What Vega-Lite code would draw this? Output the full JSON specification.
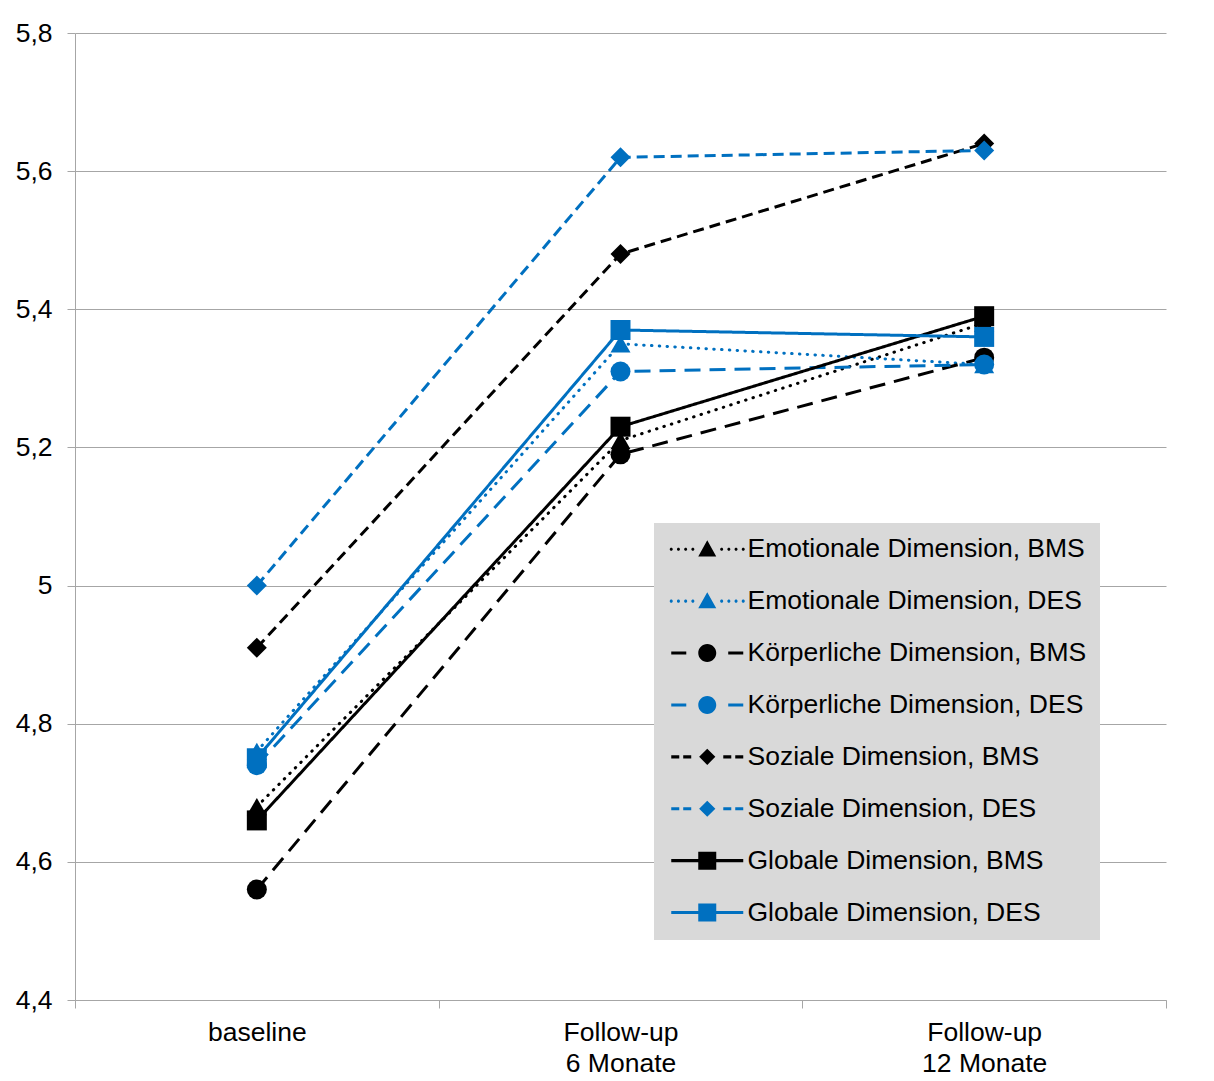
{
  "$schema": "https://vega.github.io/schema/vega-lite/v6.json",
  "width": 1091,
  "height": 967,
  "autosize": {"type": "none"},
  "padding": {"left": 75, "top": 33, "right": 48, "bottom": 81},
  "background": "white",
  "config": {
    "view": {"stroke": null},
    "font": "Liberation Sans",
    "axis": {
      "labelFont": "Liberation Sans",
      "labelFontSize": 26.5,
      "labelColor": "black",
      "domainColor": "#a6a6a6",
      "tickColor": "#a6a6a6",
      "gridColor": "#a6a6a6",
      "domainWidth": 1,
      "tickWidth": 1,
      "gridWidth": 1,
      "tickSize": 8,
      "title": null
    }
  },
  "data": {
    "values": [
      {"zeit": "baseline", "reihe": "Emotionale Dimension, BMS", "wert": 4.68},
      {"zeit": "Follow-up 6 Monate", "reihe": "Emotionale Dimension, BMS", "wert": 5.21},
      {"zeit": "Follow-up 12 Monate", "reihe": "Emotionale Dimension, BMS", "wert": 5.38},
      {"zeit": "baseline", "reihe": "Emotionale Dimension, DES", "wert": 4.76},
      {"zeit": "Follow-up 6 Monate", "reihe": "Emotionale Dimension, DES", "wert": 5.35},
      {"zeit": "Follow-up 12 Monate", "reihe": "Emotionale Dimension, DES", "wert": 5.32},
      {"zeit": "baseline", "reihe": "Körperliche Dimension, BMS", "wert": 4.56},
      {"zeit": "Follow-up 6 Monate", "reihe": "Körperliche Dimension, BMS", "wert": 5.19},
      {"zeit": "Follow-up 12 Monate", "reihe": "Körperliche Dimension, BMS", "wert": 5.33},
      {"zeit": "baseline", "reihe": "Körperliche Dimension, DES", "wert": 4.74},
      {"zeit": "Follow-up 6 Monate", "reihe": "Körperliche Dimension, DES", "wert": 5.31},
      {"zeit": "Follow-up 12 Monate", "reihe": "Körperliche Dimension, DES", "wert": 5.32},
      {"zeit": "baseline", "reihe": "Soziale Dimension, BMS", "wert": 4.91},
      {"zeit": "Follow-up 6 Monate", "reihe": "Soziale Dimension, BMS", "wert": 5.48},
      {"zeit": "Follow-up 12 Monate", "reihe": "Soziale Dimension, BMS", "wert": 5.64},
      {"zeit": "baseline", "reihe": "Soziale Dimension, DES", "wert": 5.0},
      {"zeit": "Follow-up 6 Monate", "reihe": "Soziale Dimension, DES", "wert": 5.62},
      {"zeit": "Follow-up 12 Monate", "reihe": "Soziale Dimension, DES", "wert": 5.63},
      {"zeit": "baseline", "reihe": "Globale Dimension, BMS", "wert": 4.66},
      {"zeit": "Follow-up 6 Monate", "reihe": "Globale Dimension, BMS", "wert": 5.23},
      {"zeit": "Follow-up 12 Monate", "reihe": "Globale Dimension, BMS", "wert": 5.39},
      {"zeit": "baseline", "reihe": "Globale Dimension, DES", "wert": 4.75},
      {"zeit": "Follow-up 6 Monate", "reihe": "Globale Dimension, DES", "wert": 5.37},
      {"zeit": "Follow-up 12 Monate", "reihe": "Globale Dimension, DES", "wert": 5.36}
    ]
  },
  "encoding": {
    "x": {
      "field": "zeit",
      "type": "nominal",
      "bandPosition": 0.5,
      "sort": ["baseline", "Follow-up 6 Monate", "Follow-up 12 Monate"],
      "scale": {"type": "band", "paddingInner": 0, "paddingOuter": 0},
      "axis": {
        "labelAngle": 0,
        "tickBand": "extent",
        "labelPadding": 11,
        "labelBaseline": "top",
        "labelLineHeight": 31,
        "labelExpr": "datum.value == 'baseline' ? 'baseline' : indexof(datum.value + '', 'Follow-up') === 0 ? ['Follow-up', replace(datum.value, 'Follow-up ', '')] : ''"
      }
    },
    "y": {
      "field": "wert",
      "type": "quantitative",
      "scale": {"domain": [4.4, 5.8], "nice": false, "zero": false},
      "axis": {
        "values": [4.4, 4.6, 4.8, 5.0, 5.2, 5.4, 5.6, 5.8],
        "grid": true,
        "labelPadding": 15,
        "labelExpr": "replace(format(datum.value, '.1~f'), '.', ',')"
      }
    },
    "color": {
      "field": "reihe",
      "type": "nominal",
      "scale": {
        "domain": [
          "Emotionale Dimension, BMS", "Emotionale Dimension, DES",
          "Körperliche Dimension, BMS", "Körperliche Dimension, DES",
          "Soziale Dimension, BMS", "Soziale Dimension, DES",
          "Globale Dimension, BMS", "Globale Dimension, DES"
        ],
        "range": ["#000000", "#0070c0", "#000000", "#0070c0", "#000000", "#0070c0", "#000000", "#0070c0"]
      },
      "legend": {
        "title": null,
        "orient": "none",
        "legendX": 579,
        "legendY": 490,
        "fillColor": "#d9d9d9",
        "padding": 13,
        "symbolSize": 324,
        "labelFont": "Liberation Sans",
        "labelFontSize": 26.5,
        "labelColor": "black",
        "labelLimit": 600,
        "labelOffset": 54,
        "rowPadding": 24.9,
        "encode": {
          "symbols": {
            "update": {
              "shape": {"signal": "indexof(datum.value,'Emotionale')===0 ? 'M-1,0m-0.17,0a0.17,0.17 0 1,0 0.34,0a0.17,0.17 0 1,0 -0.34,0ZM-0.2,0m-0.17,0a0.17,0.17 0 1,0 0.34,0a0.17,0.17 0 1,0 -0.34,0ZM0.6,0m-0.17,0a0.17,0.17 0 1,0 0.34,0a0.17,0.17 0 1,0 -0.34,0ZM1.4,0m-0.17,0a0.17,0.17 0 1,0 0.34,0a0.17,0.17 0 1,0 -0.34,0ZM4.6,0m-0.17,0a0.17,0.17 0 1,0 0.34,0a0.17,0.17 0 1,0 -0.34,0ZM5.4,0m-0.17,0a0.17,0.17 0 1,0 0.34,0a0.17,0.17 0 1,0 -0.34,0ZM6.2,0m-0.17,0a0.17,0.17 0 1,0 0.34,0a0.17,0.17 0 1,0 -0.34,0ZM7,0m-0.17,0a0.17,0.17 0 1,0 0.34,0a0.17,0.17 0 1,0 -0.34,0ZM3,-1L4,0.8L2,0.8Z' : indexof(datum.value,'Körperliche')===0 ? 'M-1,-0.17H0.67V0.17H-1ZM5.33,-0.17H7V0.17H5.33ZM2,0A1,1 0 1,0 4,0A1,1 0 1,0 2,0Z' : indexof(datum.value,'Soziale')===0 ? 'M-1,-0.17H-0.11V0.17H-1ZM0.33,-0.17H1.22V0.17H0.33ZM4.78,-0.17H5.67V0.17H4.78ZM6.11,-0.17H7V0.17H6.11ZM3,-0.9L3.9,0L3,0.9L2.1,0Z' : 'M-1,-0.17H7V0.17H-1ZM2,-1H4V1H2Z'"},
              "fill": {"signal": "indexof(datum.value,'DES')>0 ? '#0070c0' : '#000000'"},
              "strokeWidth": {"value": 0},
              "strokeDash": {"value": []},
              "opacity": {"value": 1},
              "fillOpacity": {"value": 1}
            }
          }
        }
      }
    }
  },
  "layer": [
    {
      "transform": [{"filter": "indexof(datum.reihe, 'Emotionale') === 0"}],
      "mark": {"type": "line", "strokeWidth": 3, "strokeCap": "round", "strokeDash": [0.5, 7.3]},
      "encoding": {"detail": {"field": "reihe"}}
    },
    {
      "transform": [{"filter": "indexof(datum.reihe, 'Emotionale') !== 0"}],
      "mark": {"type": "line", "strokeWidth": 3, "strokeCap": "butt"},
      "encoding": {
        "strokeDash": {
          "field": "reihe",
          "type": "nominal",
          "legend": null,
          "scale": {
            "domain": [
              "Körperliche Dimension, BMS", "Körperliche Dimension, DES",
              "Soziale Dimension, BMS", "Soziale Dimension, DES",
              "Globale Dimension, BMS", "Globale Dimension, DES"
            ],
            "range": [[16, 9], [16, 9], [11, 6], [11, 6], [1, 0], [1, 0]]
          }
        }
      }
    },
    {
      "mark": {"type": "point", "filled": true, "size": 400, "opacity": 1, "strokeWidth": 0},
      "encoding": {
        "shape": {
          "field": "reihe",
          "type": "nominal",
          "legend": null,
          "scale": {
            "domain": [
              "Globale Dimension, DES", "Globale Dimension, BMS",
              "Soziale Dimension, DES", "Soziale Dimension, BMS",
              "Körperliche Dimension, DES", "Körperliche Dimension, BMS",
              "Emotionale Dimension, DES", "Emotionale Dimension, BMS"
            ],
            "range": ["square", "square", "diamond", "diamond", "circle", "circle", "triangle-up", "triangle-up"]
          }
        }
      }
    }
  ]
}
